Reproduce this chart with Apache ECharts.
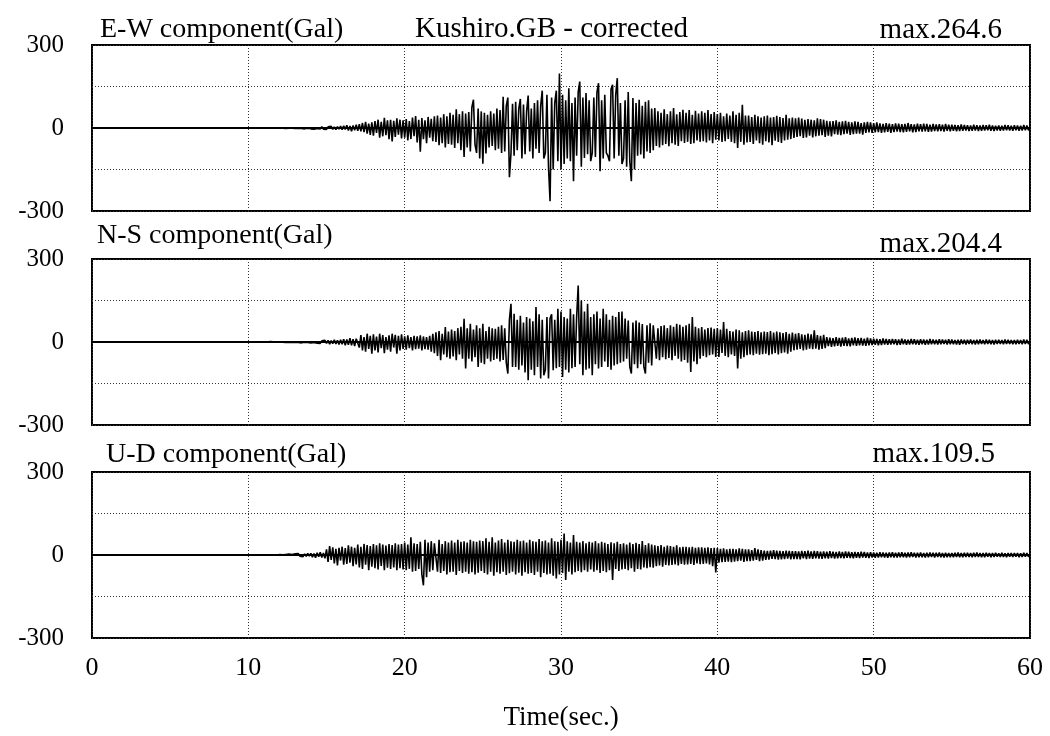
<!DOCTYPE html>
<html>
<head>
<meta charset="utf-8">
<script src="https://cdn.jsdelivr.net/npm/echarts@6.0.0/dist/echarts.min.js"></script>
<style>
html,body{margin:0;padding:0;background:#fff;}
#chart{width:1050px;height:736px;}
</style>
</head>
<body>
<div id="chart"></div>
<script>
// ---- data ----
const dt = 0.1; // sampling step of the arrays below, seconds
const xTicks = [0, 10, 20, 30, 40, 50, 60];
const yTicks = [-300, -150, 0, 150, 300];
const yLabelled = [-300, 0, 300];
const panelTitles = ['E-W component(Gal)', 'N-S component(Gal)', 'U-D component(Gal)'];
const maxLabels = ['max.264.6', 'max.204.4', 'max.109.5'];
const stationTitle = 'Kushiro.GB - corrected';
const xName = 'Time(sec.)';

const ew = [
0,0,0,0,0,0,0,0,0,0,
0,0,0,0,0,0,0,0,0,0,
0,0,0,0,0,0,0,0,0,0,
0,0,0,0,0,0,0,0,0,0,
0,0,0,0,0,0,0,0,0,0,
0,0,0,0,0,0,0,0,0,0,
0,0,0,0,0,0,0,0,0,0,
0,0,0,0,0,0,0,0,0,0,
0,1,0,-1,0,1,0,-1,0,1,
0,-1,0,1,0,-1,1,0,-1,0,
1,-1,0,1,-1,0,1,-1,1,0,
-1,1,0,-1,1,-1,0,1,-1,1,
-1,2,-1,1,-2,1,-1,2,-1,1,
-2,2,-1,3,-2,1,-3,2,-1,3,
-3,2,-4,3,-2,4,-3,5,-4,3,
-5,4,-3,6,-5,4,-6,5,-4,7,
-6,8,-5,10,-9,7,-12,9,-8,12,
-10,14,-12,18,-15,22,-20,16,-25,20,
-28,25,-18,30,-35,22,-30,37,-26,28,
-40,30,-49,26,-32,35,-24,30,-38,28,
-35,32,-45,25,-40,38,-30,43,-52,30,
-86,36,-40,28,-55,40,-35,33,-48,42,
-50,45,-62,38,-55,50,-70,42,-58,55,
-60,48,-72,68,-55,50,-80,60,-105,52,
-70,58,-85,75,102,-60,-90,70,-110,60,
-129,55,-92,48,-70,60,-65,52,-80,70,
-75,65,-90,113,-85,80,110,-178,-92,88,
-100,95,-80,70,105,-110,85,-95,60,117,
-85,70,-110,90,-75,100,-90,80,135,-110,
-90,120,-140,-264.6,110,-150,90,135,-120,197,
-150,120,-130,100,-110,144,-120,90,-192,110,
-100,130,168,-140,110,-108,126,-95,100,-120,
-90,110,-105,130,162,-156,100,-110,120,-90,
-100,-120,140,156,-110,120,180,-100,90,-130,
-110,100,-140,130,-120,-192,108,-150,90,-100,
102,-96,80,-110,95,-85,100,-90,70,-80,
72,-65,60,-70,55,-62,68,-58,50,-66,
60,-55,72,-60,50,-65,58,-48,66,-54,
55,-50,65,-58,48,-55,62,-45,52,-50,
60,-48,55,-52,65,-45,50,-55,58,-42,
50,-45,55,-50,42,-48,52,-40,45,-50,
60,-55,48,-72,55,-50,84,-60,45,-52,
45,-50,40,-58,48,-45,42,-55,38,-60,
42,-48,45,-52,38,-62,40,-46,44,-50,
40,-54,36,-45,48,-42,35,-40,38,-36,
35,-32,38,-30,34,-36,30,-34,32,-28,
30,-34,28,-30,35,-28,32,-26,30,-32,
26,-28,24,-30,25,-22,28,-24,22,-26,
24,-22,26,-20,22,-25,20,-22,24,-20,
22,-20,18,-24,20,-18,22,-16,20,-18,
18,-16,20,-15,17,-18,15,-16,18,-14,
16,-18,14,-15,17,-13,16,-15,14,-16,
15,-14,18,-12,14,-16,13,-15,16,-12,
14,-13,16,-12,15,-14,12,-13,15,-11,
13,-12,14,-11,12,-13,15,-10,12,-12,
12,-10,11,-12,10,-11,13,-10,11,-9,
10,-11,9,-10,12,-9,10,-11,9,-10,
11,-9,10,-8,12,-10,9,-11,8,-9,
9,-10,8,-9,11,-8,10,-9,8,-10,
10,-8,9,-10,8,-9,11,-8,9,-8,
0
];

const ns = [
0,0,0,0,0,0,0,0,0,0,
0,0,0,0,0,0,0,0,0,0,
0,0,0,0,0,0,0,0,0,0,
0,0,0,0,0,0,0,0,0,0,
0,0,0,0,0,0,0,0,0,0,
0,0,0,0,0,0,0,0,0,0,
0,0,0,0,0,0,0,0,0,0,
0,0,0,0,0,0,0,0,0,0,
0,0,1,0,-1,0,1,0,-1,0,
1,0,-1,0,1,-1,0,1,0,-1,
0,1,-1,0,1,-1,1,0,-1,1,
-1,1,0,-1,2,-1,1,-1,0,1,
-1,2,-1,1,-2,1,-1,2,-2,1,
-2,3,-2,2,-3,2,-1,3,-2,2,
-3,4,-2,5,-4,3,-5,4,-3,6,
-5,6,-8,5,-6,8,-7,6,-9,8,
-8,10,-12,9,-10,14,-12,10,-15,12,
15,-20,25,-30,18,-35,30,-25,22,-42,
28,-30,20,-38,30,-22,25,-40,18,-28,
24,-35,30,-20,26,-42,22,-30,28,-25,
20,-28,24,-22,18,-30,22,-26,20,-24,
24,-30,20,-26,18,-28,22,-35,30,-40,
35,-50,40,-66,30,-45,54,-55,38,-60,
45,-52,40,-66,50,-45,55,-60,84,-96,
50,-60,66,-70,45,-55,60,-90,50,-75,
66,-80,40,-60,55,-70,50,-65,48,-60,
55,-70,60,-65,50,-75,-114,80,138,-90,
102,-90,80,-100,95,-85,70,-110,90,-138,
85,-100,75,-120,126,-90,100,-132,80,-120,
-100,90,-132,85,100,-102,80,-95,120,-90,
110,-126,90,-100,85,-110,120,-95,100,-90,
90,204.4,-80,150,-120,110,-100,138,-96,90,
-120,100,-80,110,-96,85,-90,120,-70,100,
-90,80,-100,95,-85,90,-80,108,-75,110,
-70,85,-60,78,-90,-114,70,-80,78,-95,
70,-80,65,-90,-114,60,-75,68,-85,60,
55,-60,50,-66,58,-55,60,-62,50,-58,
60,-66,55,-50,66,-60,62,-70,55,-65,
60,-75,66,-108,90,-70,55,-80,50,-60,
54,-50,45,-55,50,-48,52,-45,48,-54,
50,-54,45,-40,72,-50,48,-55,40,-45,
38,-50,45,-96,42,-60,35,-55,40,-48,
42,-45,38,-48,36,-42,40,-46,35,-44,
38,-42,36,-48,40,-44,34,-40,38,-45,
35,-40,32,-38,36,-42,30,-35,34,-30,
30,-28,32,-25,28,-30,26,-28,30,-24,
28,-26,42,-24,25,-28,22,-25,26,-22,
18,-15,16,-18,14,-16,18,-14,15,-17,
16,-14,18,-15,13,-16,15,-12,17,-14,
14,-12,15,-13,12,-14,16,-12,13,-11,
12,-10,11,-12,10,-11,13,-9,11,-10,
10,-9,11,-8,10,-11,9,-10,12,-8,
9,-10,8,-9,11,-8,10,-9,8,-10,
10,-8,9,-10,8,-9,11,-8,9,-8,
8,-9,10,-8,9,-7,8,-9,10,-8,
9,-8,7,-9,8,-10,9,-7,8,-9,
8,-7,9,-8,7,-9,8,-8,9,-7,
7,-8,9,-7,8,-8,7,-9,8,-7,
8,-7,7,-8,9,-7,8,-7,7,-8,
7,-8,8,-7,7,-8,9,-7,8,-7,
0
];

const ud = [
0,0,0,0,0,0,0,0,0,0,
0,0,0,0,0,0,0,0,0,0,
0,0,0,0,0,0,0,0,0,0,
0,0,0,0,0,0,0,0,0,0,
0,0,0,0,0,0,0,0,0,0,
0,0,0,0,0,0,0,0,0,0,
0,0,0,0,0,0,0,0,0,0,
0,0,0,0,0,0,0,0,0,0,
0,0,0,0,0,0,0,0,0,0,
0,0,0,0,0,0,0,0,0,0,
0,1,0,-1,0,1,0,-1,0,1,
-1,0,1,-1,1,0,-1,1,-1,0,
2,-2,1,-3,2,-2,3,-1,2,-3,
4,-3,5,-4,3,-6,4,-5,6,-4,
6,-8,5,-10,8,-6,10,-9,7,-12,
20,-25,32,-18,28,-30,22,-38,26,-20,
30,-35,25,-32,35,-28,30,-40,26,-34,
38,-45,30,-50,40,-35,36,-55,32,-42,
40,-48,35,-52,42,-40,38,-55,34,-46,
40,-50,36,-45,42,-55,38,-48,40,-52,
45,-55,38,-50,64,-60,42,-58,40,-50,
48,-70,-109.5,55,-80,45,-60,50,-55,42,
48,-60,55,-65,40,-58,50,-70,45,-62,
52,-60,45,-72,55,-58,48,-65,50,-60,
45,-68,55,-62,50,-70,48,-64,52,-58,
50,-65,60,-70,48,-60,64,-75,45,-62,
52,-68,58,-60,45,-72,55,-66,50,-60,
48,-70,55,-64,50,-75,52,-62,45,-68,
55,-65,50,-72,48,-60,58,-80,50,-65,
52,-70,45,-68,60,-75,50,-85,48,-70,
55,-65,78,-90,50,-60,45,-70,72,-62,
48,-58,45,-62,50,-55,42,-60,48,-52,
45,-60,50,-55,42,-65,48,-58,44,-62,
40,-55,46,-90,42,-50,48,-58,40,-52,
42,-50,38,-55,45,-48,40,-60,44,-50,
40,-52,50,-45,36,-48,42,-44,38,-46,
35,-40,32,-38,36,-42,30,-36,34,-38,
32,-36,30,-34,35,-38,28,-32,30,-35,
30,-34,28,-32,30,-36,26,-30,28,-33,
28,-32,26,-30,28,-34,25,-40,26,-63,
25,-28,22,-26,24,-25,20,-24,22,-26,
22,-24,20,-22,24,-20,22,-25,20,-22,
20,-22,18,-20,25,-18,20,-22,18,-20,
16,-18,15,-17,16,-14,18,-15,16,-17,
15,-16,14,-15,16,-13,15,-16,14,-15,
14,-15,13,-16,15,-12,14,-15,16,-13,
13,-14,15,-12,14,-13,12,-14,13,-12,
12,-13,14,-11,12,-13,11,-12,13,-11,
11,-12,13,-10,12,-11,10,-12,11,-10,
10,-11,12,-9,11,-10,9,-11,10,-9,
9,-10,8,-9,10,-8,9,-9,8,-10,
9,-8,10,-9,8,-9,9,-8,10,-8,
8,-9,9,-8,10,-7,8,-9,8,-8,
9,-8,7,-9,8,-8,9,-7,8,-9,
8,-7,9,-8,7,-9,8,-8,7,-8,
7,-8,8,-7,9,-8,7,-8,8,-7,
8,-7,7,-8,8,-7,9,-7,7,-8,
7,-8,8,-6,7,-8,7,-7,8,-6,
6,-7,8,-7,6,-8,7,-6,7,-7,
7,-6,7,-8,6,-7,8,-6,7,-6,
0
];

const components = [ew, ns, ud];

// ---- chart ----
const FONT = '"Liberation Serif", "Times New Roman", serif';
const gridTops = [45, 259, 472];
const gridH = 166;

const chart = echarts.init(document.getElementById('chart'), null, {renderer: 'canvas'});

const grids = gridTops.map(t => ({
  left: 92, right: 20, top: t, height: gridH,
  show: true, borderColor: '#000', borderWidth: 2, backgroundColor: 'transparent'
}));

const dotted = {show: true, lineStyle: {color: '#333', type: [1, 2], width: 1}};

const xAxes = components.map((_, i) => ({
  type: 'value', gridIndex: i,
  min: xTicks[0], max: xTicks[xTicks.length - 1], interval: xTicks[1] - xTicks[0],
  axisLine: {show: false}, axisTick: {show: false},
  axisLabel: {show: i === 2, color: '#000', fontFamily: FONT, fontSize: 26, margin: 17},
  splitLine: dotted,
  name: i === 2 ? xName : '',
  nameLocation: 'middle', nameGap: 66,
  nameTextStyle: {color: '#000', fontFamily: FONT, fontSize: 27}
}));

const yAxes = components.map((_, i) => ({
  type: 'value', gridIndex: i,
  min: yTicks[0], max: yTicks[yTicks.length - 1], interval: yTicks[1] - yTicks[0],
  axisLine: {show: false}, axisTick: {show: false},
  axisLabel: {
    color: '#000', fontFamily: FONT, fontSize: 25, margin: 28,
    formatter: v => (yLabelled.indexOf(v) >= 0 ? String(v) : '')
  },
  splitLine: dotted
}));

const series = components.map((arr, i) => ({
  type: 'line', xAxisIndex: i, yAxisIndex: i,
  data: arr.map((v, k) => [Math.round(k * dt * 100) / 100, v]),
  showSymbol: false, symbol: 'none', silent: true,
  lineStyle: {color: '#000', width: 1.6},
  markLine: {
    silent: true, symbol: 'none', label: {show: false},
    lineStyle: {color: '#000', width: 2, type: 'solid'},
    data: [{yAxis: 0}]
  },
  z: 3
}));

const tStyle = size => ({color: '#000', fontFamily: FONT, fontSize: size, fontWeight: 'normal'});
const titles = [
  {text: panelTitles[0], left: 100, top: 16, padding: 0, textStyle: tStyle(28)},
  {text: stationTitle, right: 362, top: 15, padding: 0, textStyle: tStyle(29)},
  {text: maxLabels[0], right: 48, top: 16, padding: 0, textStyle: tStyle(29)},
  {text: panelTitles[1], left: 97, top: 222, padding: 0, textStyle: tStyle(28)},
  {text: maxLabels[1], right: 48, top: 230, padding: 0, textStyle: tStyle(29)},
  {text: panelTitles[2], left: 106, top: 441, padding: 0, textStyle: tStyle(28)},
  {text: maxLabels[2], right: 55, top: 440, padding: 0, textStyle: tStyle(29)}
];

chart.setOption({
  animation: false,
  backgroundColor: '#fff',
  title: titles,
  grid: grids,
  xAxis: xAxes,
  yAxis: yAxes,
  series: series
});
</script>
</body>
</html>
